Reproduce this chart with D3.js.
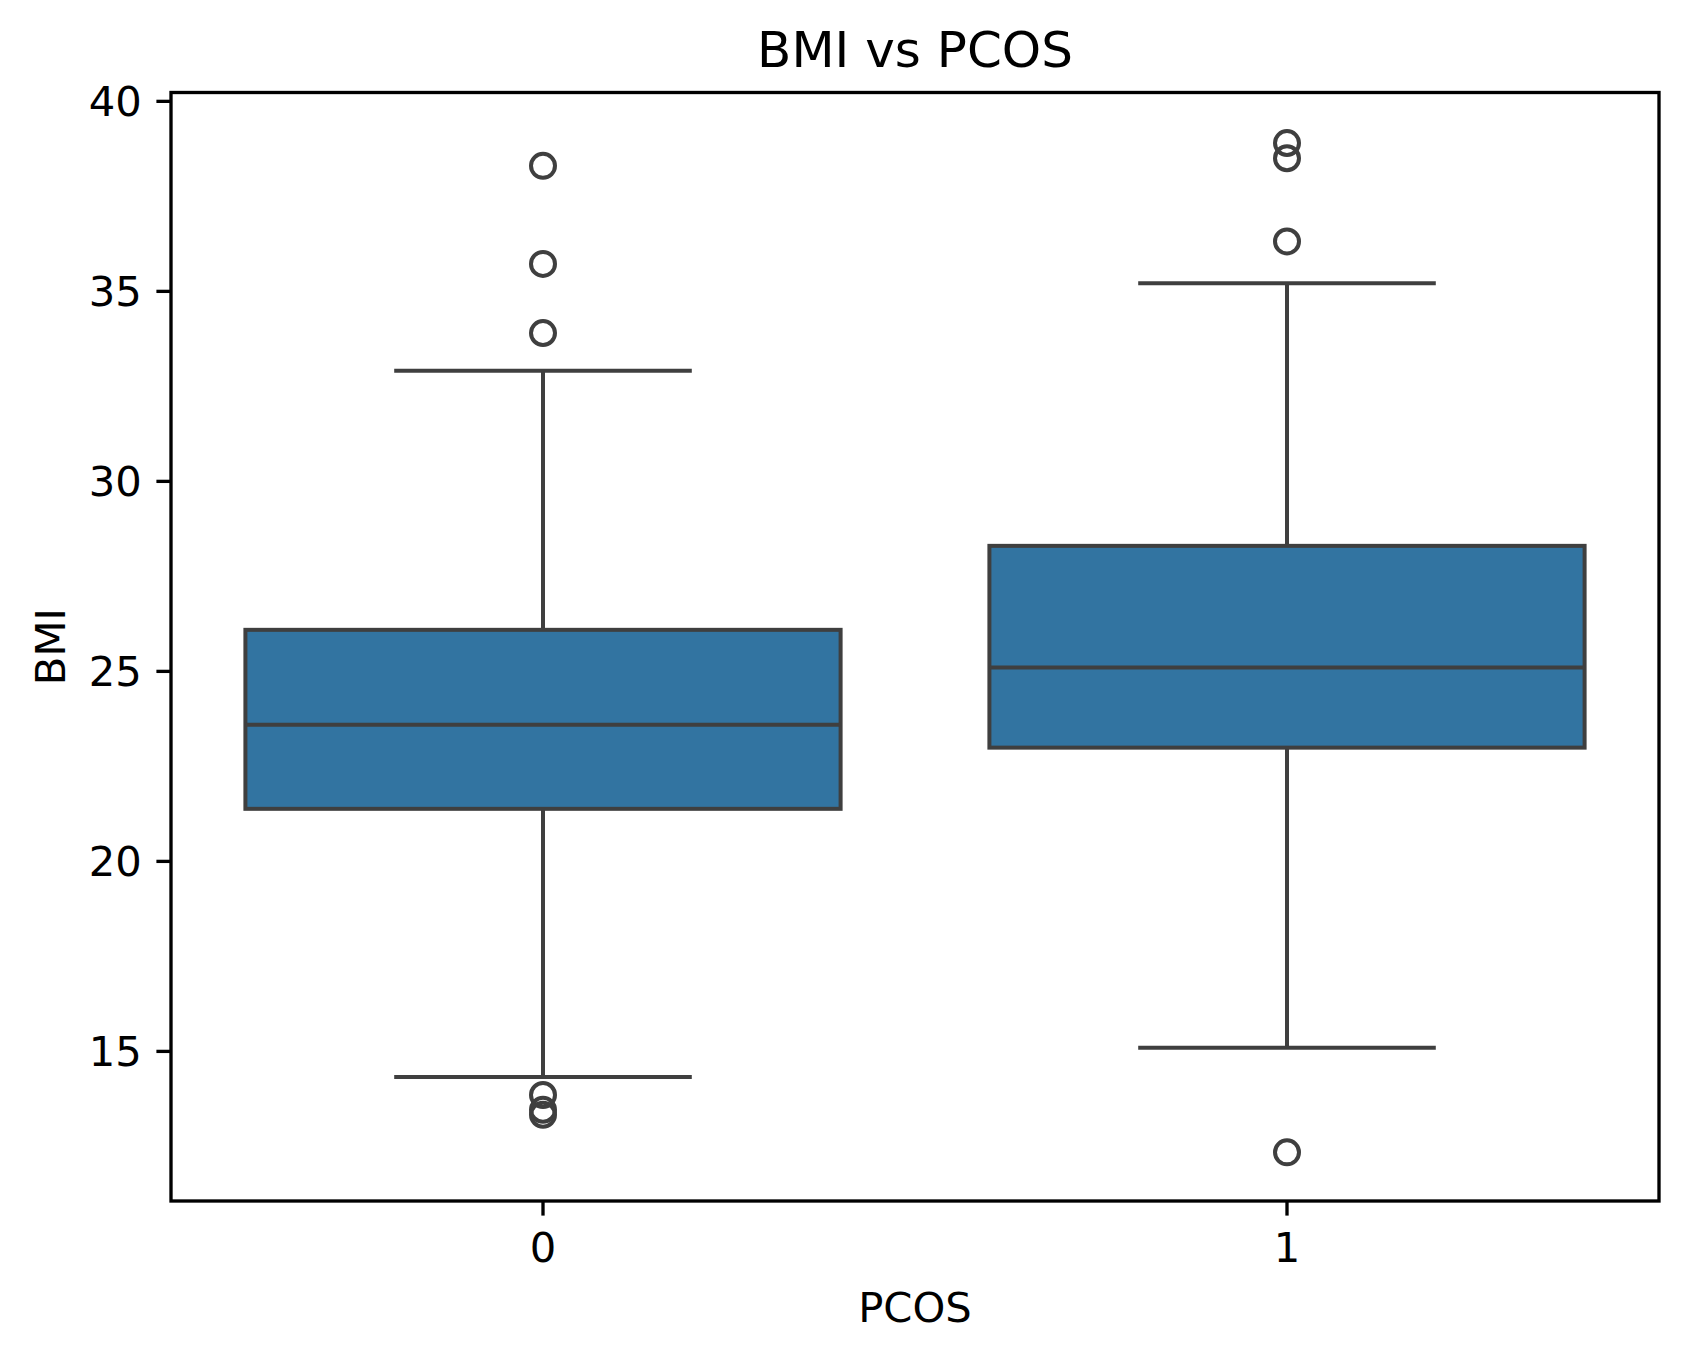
<!DOCTYPE html>
<html>
<head>
<meta charset="utf-8">
<script src="https://cdn.jsdelivr.net/npm/d3@7"></script>
<style>
  body { margin: 0; background: #fff; }
  text { font-family: "DejaVu Sans", sans-serif; fill: #000; }
</style>
</head>
<body>
<svg id="chart" width="1688" height="1361"></svg>
<script>
// data
var categories = ["0", "1"];
var q1 = [21.37, 22.98];
var medians = [23.58, 25.09];
var q3 = [26.08, 28.29];
var whiskerLow = [14.31, 15.08];
var whiskerHigh = [32.9, 35.2];
var outliers0 = [38.29, 35.71, 33.89, 13.84, 13.45, 13.32];
var outliers1 = [38.89, 38.49, 36.30, 12.33];
var yTicks = [15, 20, 25, 30, 35, 40];

var boxFill = "#3274a1";
var lineColor = "#3f3f3f";

// plot area (note: "top" is a reserved window property, so use other names)
var plotLeft = 171, plotRight = 1659, plotTop = 92.5, plotBottom = 1201;

var svg = d3.select("#chart");

var x = d3.scaleBand().domain(categories).range([plotLeft, plotRight]).paddingInner(0).paddingOuter(0);
var y = d3.scaleLinear().domain([11.05, 40.22]).range([plotBottom, plotTop]);

var bw = x.bandwidth();
var boxes = categories.map(function (c, i) {
  return {
    cat: c, q1: q1[i], med: medians[i], q3: q3[i],
    lo: whiskerLow[i], hi: whiskerHigh[i],
    out: i == 0 ? outliers0 : outliers1
  };
});

var g = svg.append("g");

boxes.forEach(function (d) {
  var cx = x(d.cat) + bw / 2;
  var half = bw * 0.4;
  var cap = bw * 0.2;
  // whiskers
  g.append("line").attr("x1", cx).attr("x2", cx).attr("y1", y(d.q3)).attr("y2", y(d.hi))
    .attr("stroke", lineColor).attr("stroke-width", 4);
  g.append("line").attr("x1", cx).attr("x2", cx).attr("y1", y(d.q1)).attr("y2", y(d.lo))
    .attr("stroke", lineColor).attr("stroke-width", 4);
  g.append("line").attr("x1", cx - cap).attr("x2", cx + cap).attr("y1", y(d.hi)).attr("y2", y(d.hi))
    .attr("stroke", lineColor).attr("stroke-width", 4);
  g.append("line").attr("x1", cx - cap).attr("x2", cx + cap).attr("y1", y(d.lo)).attr("y2", y(d.lo))
    .attr("stroke", lineColor).attr("stroke-width", 4);
  // box
  g.append("rect").attr("x", cx - half).attr("width", half * 2)
    .attr("y", y(d.q3)).attr("height", y(d.q1) - y(d.q3))
    .attr("fill", boxFill).attr("stroke", lineColor).attr("stroke-width", 4);
  g.append("line").attr("x1", cx - half).attr("x2", cx + half).attr("y1", y(d.med)).attr("y2", y(d.med))
    .attr("stroke", lineColor).attr("stroke-width", 4);
  // fliers
  g.selectAll(null).data(d.out).enter().append("circle")
    .attr("cx", cx).attr("cy", function (v) { return y(v); })
    .attr("r", 12).attr("fill", "none").attr("stroke", lineColor).attr("stroke-width", 4);
});

// axes frame
svg.append("rect").attr("x", plotLeft).attr("y", plotTop)
  .attr("width", plotRight - plotLeft).attr("height", plotBottom - plotTop)
  .attr("fill", "none").attr("stroke", "#000").attr("stroke-width", 3.33);

// y axis
var yAxis = d3.axisLeft(y).tickValues(yTicks).tickSize(14.6).tickPadding(14.6).tickFormat(d3.format("d"));
var ya = svg.append("g").attr("transform", "translate(" + plotLeft + ",0)").call(yAxis);
ya.select(".domain").remove();
ya.selectAll(".tick line").attr("stroke", "#000").attr("stroke-width", 3.33);
ya.selectAll(".tick text").attr("font-size", 41.7).attr("dy", "0.36em")
  .style("font-family", "DejaVu Sans, sans-serif").attr("fill", "#000");

// x axis
var xAxis = d3.axisBottom(x).tickSize(14.6).tickPadding(14.6);
var xa = svg.append("g").attr("transform", "translate(0," + plotBottom + ")").call(xAxis);
xa.select(".domain").remove();
xa.selectAll(".tick line").attr("stroke", "#000").attr("stroke-width", 3.33);
xa.selectAll(".tick text").attr("font-size", 41.7).attr("dy", "0.76em")
  .style("font-family", "DejaVu Sans, sans-serif").attr("fill", "#000");

// labels
svg.append("text").attr("x", (plotLeft + plotRight) / 2).attr("y", 67).attr("text-anchor", "middle")
  .attr("font-size", 50).text("BMI vs PCOS");
svg.append("text").attr("x", (plotLeft + plotRight) / 2).attr("y", 1322).attr("text-anchor", "middle")
  .attr("font-size", 41.7).text("PCOS");
svg.append("text").attr("transform", "translate(65," + (plotTop + plotBottom) / 2 + ") rotate(-90)")
  .attr("text-anchor", "middle").attr("font-size", 41.7).text("BMI");
</script>
</body>
</html>
